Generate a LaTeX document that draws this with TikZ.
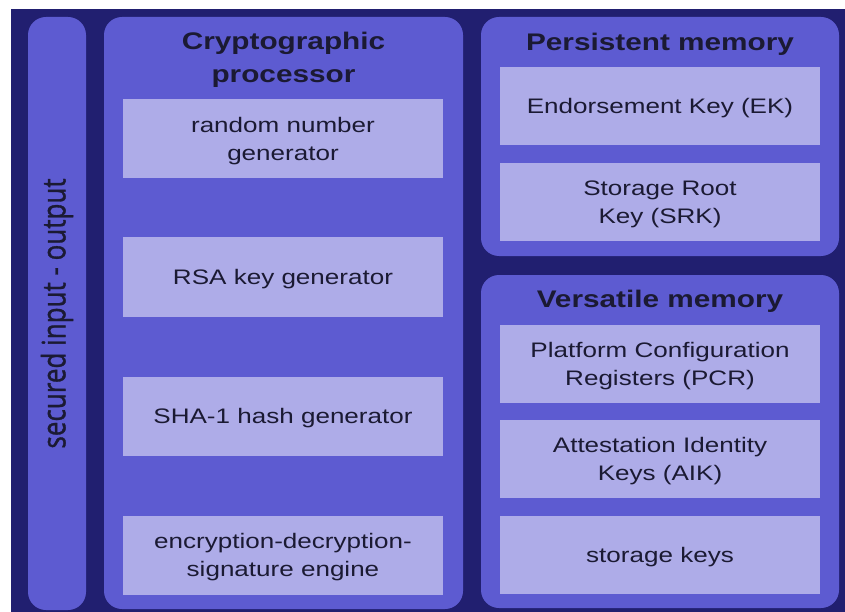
\documentclass[tikz,border=0pt]{standalone}
\usepackage{fontspec}
\newfontfamily\bodyfont{Liberation Sans}[FakeStretch=1.24]
\newfontfamily\vertfont{Open Sans}[FakeBold=1.2]
\definecolor{navy}{HTML}{211F70}
\definecolor{panelc}{HTML}{5D5BD1}
\definecolor{innerc}{HTML}{AEACE8}
\definecolor{textc}{HTML}{1B1A33}
\newcommand\lowertext{\rule{0pt}{19.5pt}}
\begin{document}
\begin{tikzpicture}[x=1pt,y=-1pt,
  panel/.style={fill=panelc, draw=none, rounded corners=18pt, inner sep=0pt},
  innerbox/.style={fill=innerc, draw=none, inner sep=0pt, align=center,
    text=textc, font=\bodyfont\fontsize{21}{28}\selectfont},
  cryptobox/.style={innerbox, minimum width=320pt, minimum height=79pt},
  memorybox/.style={innerbox, minimum width=320pt, minimum height=78pt},
  paneltitle/.style={align=center, text=textc, inner sep=0pt,
    font=\bodyfont\bfseries\fontsize{24}{33}\selectfont},
  verttext/.style={rotate=90, text=textc, inner sep=0pt,
    font=\vertfont\fontsize{26}{30}\selectfont}]
\useasboundingbox (0,0) rectangle (845,612);
\fill[white] (0,0) rectangle (845,612);
\fill[navy] (11,9) rectangle (845,612);
% panels
\node[panel, minimum width=58pt, minimum height=593pt] (io) at (57,313.5) {};
\node[panel, minimum width=359pt, minimum height=592pt] (crypto) at (283.5,313) {};
\node[panel, minimum width=358pt, minimum height=239pt] (persist) at (660,136.5) {};
\node[panel, minimum width=358pt, minimum height=333pt] (versa) at (660,441.5) {};
% left bar label
\node[verttext] (iolabel) at (io.center) {\scalebox{1}[1.24]{secured input - output}};
% titles
\node[paneltitle] (cryptotitle) at (283.5,60) {Cryptographic\\processor};
\node[paneltitle, anchor=base] (persisttitle) at (660,51) {Persistent memory};
\node[paneltitle, anchor=base] (versatitle) at (660,307) {Versatile memory};
% crypto boxes
\node[cryptobox] (rng) at (283,138.5) {\lowertext random number\\generator};
\node[cryptobox] (rsa) at (283,277) {\lowertext RSA key generator};
\node[cryptobox] (sha) at (283,416) {\lowertext SHA-1 hash generator};
\node[cryptobox] (enc) at (283,555) {\lowertext encryption-decryption-\\signature engine};
% persistent boxes
\node[memorybox] (ek) at (660,106) {\lowertext Endorsement Key (EK)};
\node[memorybox] (srk) at (660,202) {\lowertext Storage Root\\Key (SRK)};
% versatile boxes
\node[memorybox] (pcr) at (660,364) {\lowertext Platform Configuration\\Registers (PCR)};
\node[memorybox] (aik) at (660,459) {\lowertext Attestation Identity\\Keys (AIK)};
\node[memorybox] (sk) at (660,555) {\lowertext storage keys};
\end{tikzpicture}
\end{document}
